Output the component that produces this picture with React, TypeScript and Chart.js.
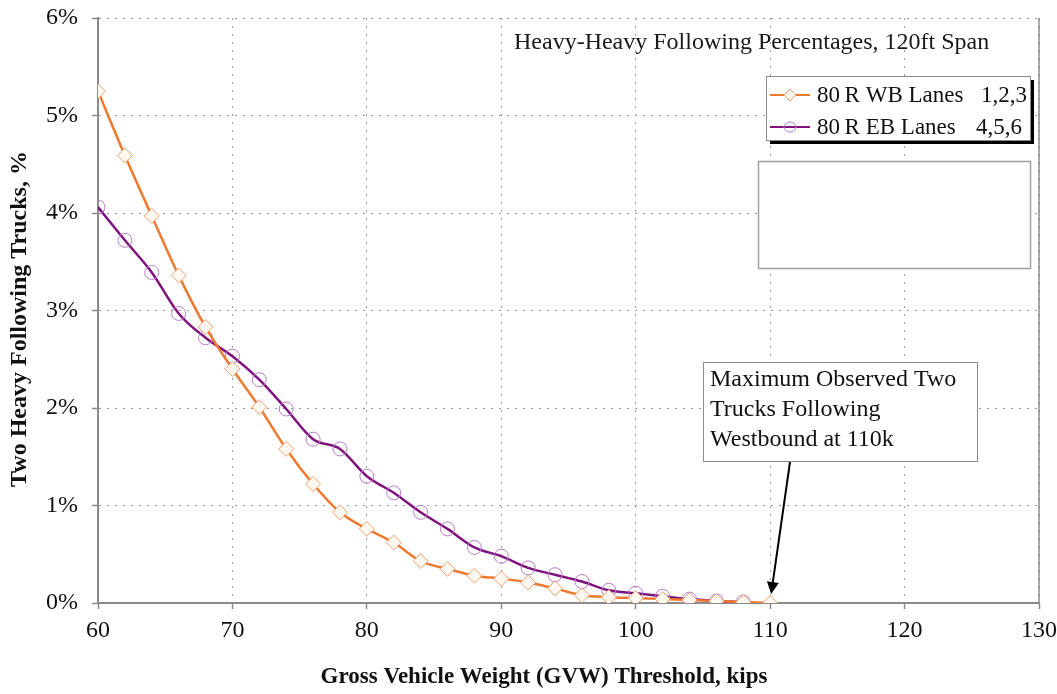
import React, { useEffect, useRef } from 'react';
import { Chart, registerables } from 'chart.js';

Chart.register(...registerables);

const wbGvw = [60, 62, 64, 66, 68, 70, 72, 74, 76, 78, 80, 82, 84, 86, 88, 90, 92, 94, 96, 98, 100, 102, 104, 106, 108, 110];
const wbPercent = [5.25, 4.59, 3.97, 3.36, 2.83, 2.4, 2.01, 1.58, 1.22, 0.93, 0.76, 0.62, 0.43, 0.35, 0.28, 0.25, 0.21, 0.15, 0.08, 0.06, 0.05, 0.04, 0.03, 0.02, 0.01, 0.0];
const ebGvw = [60, 62, 64, 66, 68, 70, 72, 74, 76, 78, 80, 82, 84, 86, 88, 90, 92, 94, 96, 98, 100, 102, 104, 106, 108];
const ebPercent = [4.06, 3.72, 3.39, 2.97, 2.72, 2.53, 2.29, 1.99, 1.68, 1.58, 1.3, 1.13, 0.93, 0.76, 0.57, 0.48, 0.36, 0.29, 0.22, 0.13, 0.1, 0.07, 0.04, 0.02, 0.01];

const seriesNames = ['80\u2009R WB Lanes', '80\u2009R EB Lanes'];
const seriesLanes = ['1,2,3', '4,5,6'];
const chartTitle = 'Heavy-Heavy Following Percentages, 120ft Span';
const xTitle = 'Gross Vehicle Weight (GVW) Threshold, kips';
const yTitle = 'Two Heavy Following Trucks, %';
const noteLines = ['Maximum Observed Two', 'Trucks Following', 'Westbound at 110k'];
const noteX = 110;
const noteY = 0;

const SERIF = '"Liberation Serif", "Times New Roman", serif';

const decorPlugin = {
  id: 'decor',
  afterDraw(chart: any) {
    const { ctx, chartArea, scales } = chart;
    ctx.save();
    // right border
    ctx.strokeStyle = '#8a8a8a';
    ctx.lineWidth = 1.5;
    ctx.beginPath();
    ctx.moveTo(chartArea.right, chartArea.top);
    ctx.lineTo(chartArea.right, chartArea.bottom);
    ctx.stroke();

    // chart title
    ctx.fillStyle = '#1a1a1a';
    ctx.font = `24px ${SERIF}`;
    ctx.textAlign = 'left';
    ctx.textBaseline = 'middle';
    ctx.fillText(chartTitle, 514, 43);

    // legend box with shadow
    const lx = 766, ly = 76, lw = 264, lh = 64;
    ctx.fillStyle = '#000';
    ctx.fillRect(lx + 4, ly + 4, lw, lh);
    ctx.fillStyle = '#fff';
    ctx.fillRect(lx, ly, lw, lh);
    ctx.strokeStyle = '#8a8a8a';
    ctx.lineWidth = 1;
    ctx.strokeRect(lx + 0.5, ly + 0.5, lw, lh);
    chart.data.datasets.forEach((ds: any, i: number) => {
      const cy = ly + 19 + i * 32;
      ctx.strokeStyle = ds.borderColor;
      ctx.lineWidth = 2;
      ctx.beginPath();
      ctx.moveTo(lx + 4, cy);
      ctx.lineTo(lx + 44, cy);
      ctx.stroke();
      ctx.strokeStyle = ds.pointBorderColor;
      ctx.fillStyle = ds.pointBackgroundColor;
      ctx.lineWidth = 1;
      ctx.beginPath();
      if (ds.pointStyle === 'rectRot') {
        ctx.moveTo(lx + 24, cy - 6);
        ctx.lineTo(lx + 30, cy);
        ctx.lineTo(lx + 24, cy + 6);
        ctx.lineTo(lx + 18, cy);
        ctx.closePath();
      } else {
        ctx.ellipse(lx + 24, cy, 6, 5, 0, 0, Math.PI * 2);
      }
      ctx.fill();
      ctx.stroke();
      ctx.fillStyle = '#111';
      ctx.font = `23px ${SERIF}`;
      ctx.textAlign = 'left';
      ctx.fillText(seriesNames[i], lx + 51, cy + 1);
      ctx.textAlign = 'right';
      ctx.fillText(seriesLanes[i], lx + 261 - i * 5, cy + 1);
    });

    // empty box
    ctx.fillStyle = '#fff';
    ctx.fillRect(758, 161, 272, 107);
    ctx.strokeStyle = '#a0a0a0';
    ctx.lineWidth = 1.5;
    ctx.strokeRect(758.5, 161.5, 272, 107);

    // annotation box
    ctx.fillStyle = '#fff';
    ctx.fillRect(703, 362, 274, 99);
    ctx.strokeStyle = '#8a8a8a';
    ctx.lineWidth = 1;
    ctx.strokeRect(703.5, 362.5, 274, 99);
    ctx.fillStyle = '#111';
    ctx.font = `24px ${SERIF}`;
    ctx.textAlign = 'left';
    ctx.textBaseline = 'middle';
    noteLines.forEach((t, i) => ctx.fillText(t, 710, 380 + i * 30));

    // arrow
    const tx = scales.x.getPixelForValue(noteX) + 1;
    const ty = scales.y.getPixelForValue(noteY) - 9;
    const sx = 790, sy = 462;
    const ang = Math.atan2(ty - sy, tx - sx);
    ctx.strokeStyle = '#000';
    ctx.fillStyle = '#000';
    ctx.lineWidth = 2;
    ctx.beginPath();
    ctx.moveTo(sx, sy);
    ctx.lineTo(tx - 10 * Math.cos(ang), ty - 10 * Math.sin(ang));
    ctx.stroke();
    ctx.beginPath();
    ctx.moveTo(tx, ty);
    ctx.lineTo(tx - 12 * Math.cos(ang) + 6 * Math.sin(ang), ty - 12 * Math.sin(ang) - 6 * Math.cos(ang));
    ctx.lineTo(tx - 12 * Math.cos(ang) - 6 * Math.sin(ang), ty - 12 * Math.sin(ang) + 6 * Math.cos(ang));
    ctx.closePath();
    ctx.fill();

    // axis titles
    ctx.fillStyle = '#111';
    ctx.font = `bold 23px ${SERIF}`;
    ctx.textAlign = 'center';
    ctx.textBaseline = 'middle';
    ctx.fillText(xTitle, 544, 677);
    ctx.font = `bold 24px ${SERIF}`;
    ctx.translate(20, 319);
    ctx.rotate(-Math.PI / 2);
    ctx.fillText(yTitle, 0, 0);
    ctx.restore();
  },
};

export default function App() {
  const canvasRef = useRef<HTMLCanvasElement | null>(null);

  useEffect(() => {
    const canvas = canvasRef.current;
    if (!canvas) return;
    const chart = new Chart(canvas, {
      type: 'line',
      data: {
        datasets: [
          {
            label: seriesNames[0] + ' ' + seriesLanes[0],
            data: wbGvw.map((x, i) => ({ x, y: wbPercent[i] })),
            borderColor: '#EE7A30',
            borderWidth: 2.5,
            pointStyle: 'rectRot',
            pointRadius: 7.5,
            pointBorderWidth: 1,
            pointBorderColor: '#F3A070',
            pointBackgroundColor: '#FFF8F0',
            cubicInterpolationMode: 'monotone',
            fill: false,
          },
          {
            label: seriesNames[1] + ' ' + seriesLanes[1],
            data: ebGvw.map((x, i) => ({ x, y: ebPercent[i] })),
            borderColor: '#80127F',
            borderWidth: 2.5,
            pointStyle: 'circle',
            pointRadius: 7,
            pointBorderWidth: 1,
            pointBorderColor: '#B57CC6',
            pointBackgroundColor: 'rgba(255,255,255,0)',
            cubicInterpolationMode: 'monotone',
            fill: false,
          },
        ],
      },
      options: {
        animation: false,
        responsive: false,
        maintainAspectRatio: false,
        layout: { padding: { left: 0, top: 18, right: 18, bottom: 0 } },
        plugins: { legend: { display: false }, title: { display: false }, tooltip: { enabled: false } },
        scales: {
          x: {
            type: 'linear',
            min: 60,
            max: 130,
            ticks: {
              stepSize: 10,
              color: '#111',
              font: { family: SERIF, size: 24 },
              padding: 7,
              maxRotation: 0,
            },
            grid: { color: '#9a9a9a', lineWidth: 1, tickLength: 6, tickColor: '#8a8a8a', tickWidth: 1.5 },
            border: { display: true, color: '#8a8a8a', width: 2, dash: [2, 6] },
            afterFit: (s: any) => { s.height = 91; s.paddingRight = 0; s.paddingLeft = 0; },
          },
          y: {
            min: 0,
            max: 6,
            ticks: {
              stepSize: 1,
              color: '#111',
              font: { family: SERIF, size: 24 },
              padding: 14,
              callback: (v: any) => `${v}%`,
            },
            grid: { color: '#9a9a9a', lineWidth: 1, tickLength: 6, tickColor: '#8a8a8a', tickWidth: 1.5 },
            border: { display: true, color: '#8a8a8a', width: 2, dash: [2, 6] },
            afterFit: (s: any) => { s.width = 98; s.paddingTop = 0; s.paddingBottom = 0; },
          },
        },
      },
      plugins: [decorPlugin],
    });
    return () => chart.destroy();
  }, []);

  return (
    <div style={{ position: 'fixed', left: 0, top: 0, width: 1057, height: 694, background: '#fff' }}>
      <canvas ref={canvasRef} width={1057} height={694} style={{ width: 1057, height: 694, display: 'block' }} />
    </div>
  );
}
